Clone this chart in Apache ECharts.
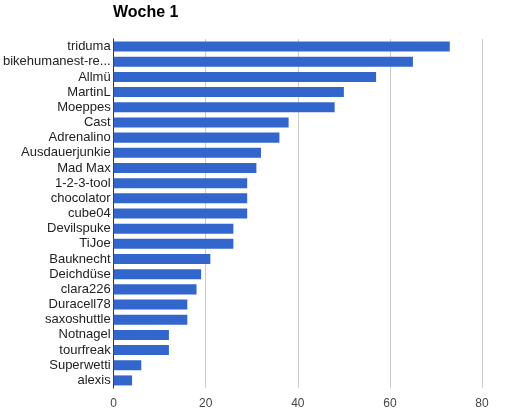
<!DOCTYPE html>
<html>
<head>
<meta charset="utf-8">
<script src="https://cdn.jsdelivr.net/npm/echarts@6/dist/echarts.min.js"></script>
<style>
  html, body { margin: 0; padding: 0; background: #fff; }
  #chart { width: 508px; height: 417px; }
</style>
</head>
<body>
<div id="chart"></div>
<script>
// Riders, listed top to bottom
const riders = [
  'triduma', 'bikehumanest-re...', 'Allmü', 'MartinL', 'Moeppes', 'Cast',
  'Adrenalino', 'Ausdauerjunkie', 'Mad Max', '1-2-3-tool', 'chocolator',
  'cube04', 'Devilspuke', 'TiJoe', 'Bauknecht', 'Deichdüse', 'clara226',
  'Duracell78', 'saxoshuttle', 'Notnagel', 'tourfreak', 'Superwetti', 'alexis'
];
// Points per rider in week 1
const points = [73, 65, 57, 50, 48, 38, 36, 32, 31, 29, 29, 29, 26, 26, 21, 19, 18, 16, 16, 12, 12, 6, 4];
// Value axis ticks
const xTicks = [0, 20, 40, 60, 80];

const FONT = '"Liberation Sans", Arial, sans-serif';

const chart = echarts.init(document.getElementById('chart'));
chart.setOption({
  animation: false,
  title: {
    text: 'Woche 1',
    left: 108,
    top: 0,
    textStyle: { fontFamily: FONT, fontSize: 16, fontWeight: 'bold', color: '#000' }
  },
  grid: { left: 111.5, right: 26, top: 39, bottom: 29, containLabel: false },
  xAxis: {
    type: 'value',
    min: xTicks[0],
    max: xTicks[xTicks.length - 1],
    interval: xTicks[1] - xTicks[0],
    axisLine: { show: false },
    axisTick: { show: false },
    splitLine: { lineStyle: { color: '#cccccc', width: 1 } },
    axisLabel: { color: '#444', fontSize: 12, margin: 10, fontFamily: FONT }
  },
  yAxis: {
    type: 'category',
    data: riders,
    inverse: true,
    axisLine: { show: true, lineStyle: { color: '#333', width: 1 } },
    axisTick: { show: false },
    axisLabel: { interval: 0, color: '#222', fontSize: 13, margin: 3, fontFamily: FONT }
  },
  series: [{
    type: 'bar',
    data: points,
    barCategoryGap: '34%',
    itemStyle: { color: '#3366cc' }
  }]
});
</script>
</body>
</html>
